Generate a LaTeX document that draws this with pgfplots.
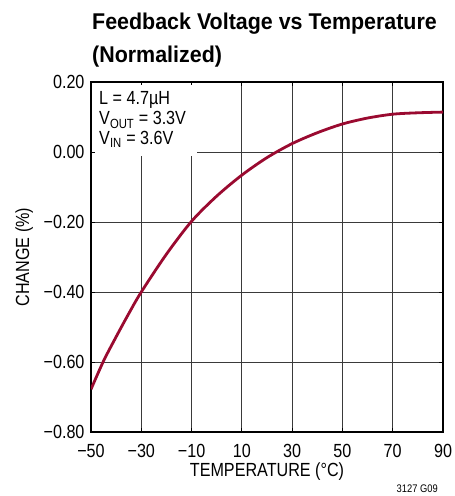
\documentclass[border=0pt]{standalone}
\usepackage{fontspec}
\setmainfont{Liberation Sans}[FakeStretch=0.85]
\newfontfamily\titlefont{Liberation Sans}[FakeStretch=0.94]
\usepackage{pgfplots}
\pgfplotsset{compat=1.18}
\definecolor{curvered}{HTML}{9A0A30}
\definecolor{gridgray}{HTML}{3A3A3A}
\begin{document}
\begin{tikzpicture}
\path[use as bounding box] (-91pt,-64pt) rectangle (364pt,432pt);
\begin{axis}[
    scale only axis,
    width=352pt, height=350pt,
    xmin=-50, xmax=90,
    ymin=-0.8, ymax=0.2,
    xtick={-50,-30,...,90},
    ytick={-0.8,-0.6,...,0.2},
    xticklabels={−50,−30,−10,10,30,50,70,90},
    yticklabels={−0.80,−0.60,−0.40,−0.20,0.00,0.20},
    tick label style={font=\fontsize{19}{21}\selectfont},
    xticklabel style={yshift=-9pt},
    yticklabel style={xshift=-3pt},
    tick align=inside,
    major tick length=4pt,
    tick style={black, line width=0.9pt},
    grid=major,
    major grid style={gridgray, line width=0.9pt},
    axis line style={black, line width=1.3pt},
    xlabel={TEMPERATURE (°C)},
    ylabel={CHANGE (\%)},
    label style={font=\fontsize{19}{21}\selectfont},
    xlabel style={at={(axis description cs:0.5,-0.126)}, anchor=base},
    ylabel style={at={(axis description cs:-0.19,0.5)}, anchor=center},
]
\addplot[curvered, line width=2.8pt, smooth] coordinates {
    (-50,-0.678) (-45,-0.597) (-40,-0.528) (-35,-0.462) (-30,-0.400)
    (-20,-0.292) (-10,-0.198) (0,-0.126) (10,-0.066) (20,-0.016)
    (30,0.024) (40,0.055) (50,0.080) (60,0.097) (70,0.108) (80,0.112) (90,0.114)
};
\fill[white] (axis cs:-48.3,0.19) rectangle (axis cs:-8,-0.012);
\node[anchor=base west, font=\fontsize{19}{21}\selectfont, inner sep=0pt]
    at (axis cs:-46.8,0.135) {L = 4.7µH};
\node[anchor=base west, font=\fontsize{19}{21}\selectfont, inner sep=0pt]
    at (axis cs:-46.8,0.078) {V\textsubscript{OUT} = 3.3V};
\node[anchor=base west, font=\fontsize{19}{21}\selectfont, inner sep=0pt]
    at (axis cs:-46.8,0.021) {V\textsubscript{IN} = 3.6V};
\end{axis}
\node[anchor=base west, inner sep=0pt, font=\titlefont\bfseries\fontsize{22.8}{25}\selectfont]
    at (1pt,402pt) {Feedback Voltage vs Temperature};
\node[anchor=base west, inner sep=0pt, font=\titlefont\bfseries\fontsize{22.8}{25}\selectfont]
    at (1pt,369pt) {(Normalized)};
\node[anchor=base east, inner sep=0pt, font=\fontsize{11}{13}\selectfont]
    at (347pt,-60pt) {3127 G09};
\end{tikzpicture}
\end{document}
